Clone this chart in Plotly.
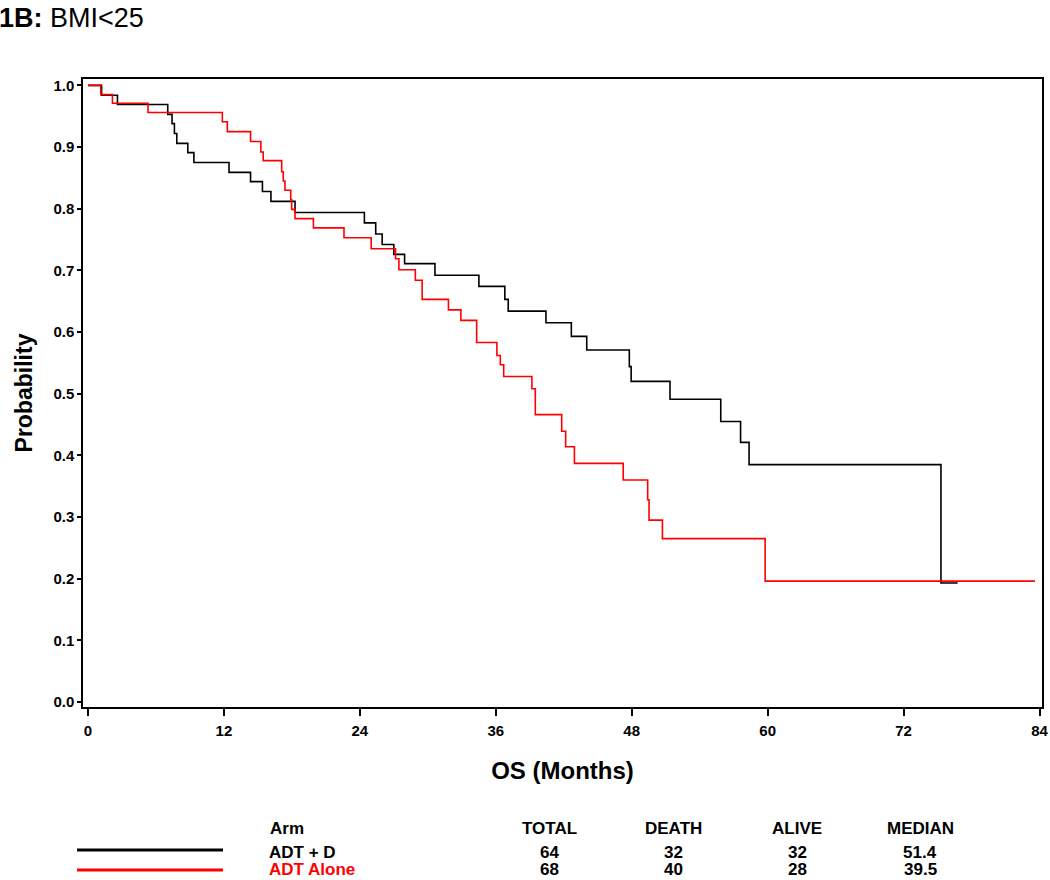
import plotly.graph_objects as go

# ---- data ----
adt_d_months = [0, 1.2, 2.6, 7.04, 7.42, 7.63, 7.84, 8.81, 9.35, 12.45, 14.35, 15.4, 16.15,
                18.28, 24.4, 25.4, 25.97, 27.0, 27.95, 30.63, 34.51, 36.8, 37.1, 40.43,
                42.67, 44.03, 47.79, 47.95, 51.38, 55.86, 57.61, 58.36, 75.3, 76.77]
adt_d_surv = [1.0, 0.984, 0.969, 0.953, 0.938, 0.922, 0.906, 0.891, 0.875, 0.859, 0.844, 0.828, 0.812,
              0.794, 0.777, 0.759, 0.742, 0.726, 0.711, 0.692, 0.674, 0.653, 0.634, 0.615,
              0.593, 0.571, 0.544, 0.520, 0.491, 0.455, 0.421, 0.385, 0.193, 0.193]

adt_alone_months = [0, 1.13, 2.16, 5.3, 11.86, 12.3, 14.35, 15.26, 15.47, 17.1, 17.24, 17.39,
                    17.9, 17.98, 18.28, 19.9, 22.6, 25.0, 27.15, 27.45, 28.9, 29.5, 31.82,
                    32.92, 34.31, 36.1, 36.4, 36.7, 39.19, 39.49, 41.82, 42.17, 42.94, 47.25,
                    49.41, 49.53, 50.71, 59.78, 83.6]
adt_alone_surv = [1.0, 0.985, 0.971, 0.956, 0.941, 0.925, 0.909, 0.892, 0.878, 0.860, 0.845, 0.830,
                  0.815, 0.799, 0.784, 0.769, 0.753, 0.735, 0.719, 0.701, 0.684, 0.653, 0.636,
                  0.619, 0.583, 0.562, 0.547, 0.528, 0.508, 0.466, 0.439, 0.414, 0.387, 0.360,
                  0.328, 0.295, 0.265, 0.196, 0.196]

x_ticks = [0, 12, 24, 36, 48, 60, 72, 84]
y_ticks = [0.0, 0.1, 0.2, 0.3, 0.4, 0.5, 0.6, 0.7, 0.8, 0.9, 1.0]

table_header = ["Arm", "TOTAL", "DEATH", "ALIVE", "MEDIAN"]
arms = ["ADT + D", "ADT Alone"]
arm_colors = ["#000000", "#FF0000"]
totals = [64, 68]
deaths = [32, 40]
alive = [32, 28]
medians = ["51.4", "39.5"]

FONT = "Liberation Sans, Arial, sans-serif"

fig = go.Figure()
fig.add_trace(go.Scatter(x=adt_d_months, y=adt_d_surv, mode="lines", line_shape="hv",
                         line=dict(color=arm_colors[0], width=1.6), name=arms[0], showlegend=False))
fig.add_trace(go.Scatter(x=adt_alone_months, y=adt_alone_surv, mode="lines", line_shape="hv",
                         line=dict(color=arm_colors[1], width=1.6), name=arms[1], showlegend=False))

fig.update_layout(
    width=1050, height=880,
    margin=dict(l=83, r=8, t=79, b=173, autoexpand=False),
    paper_bgcolor="white", plot_bgcolor="white",
    font=dict(family=FONT, color="#000000"),
    xaxis=dict(range=[-0.44, 84.22], tickvals=x_ticks, ticks="outside", ticklen=7, tickwidth=1.5,
               tickcolor="#000", showline=True, linecolor="#000", linewidth=1.5, mirror=True,
               showgrid=False, zeroline=False, automargin=False, ticklabelstandoff=2,
               tickfont=dict(family=FONT, size=15, color="#000", weight="bold"),
               title=dict(text="<b>OS (Months)</b>", font=dict(family=FONT, size=24, color="#000"),
                          standoff=24)),
    yaxis=dict(range=[-0.0081, 1.0104], tickvals=y_ticks, tickformat=".1f", ticks="outside",
               ticklen=4, tickwidth=1.5, tickcolor="#000", showline=True, linecolor="#000",
               linewidth=1.5, mirror=True, showgrid=False, zeroline=False, automargin=False,
               tickfont=dict(family=FONT, size=15, color="#000", weight="bold"),
               title=dict(text="<b>Probability</b>", font=dict(family=FONT, size=23, color="#000"),
                          standoff=14)),
)

PW, PH, L, B = 959.0, 628.0, 83.0, 707.0
def px(xp):
    return (xp - L) / PW
def py(yp):
    return (B - yp) / PH

# title
fig.add_annotation(text="<b>1B:</b> BMI&lt;25", xref="paper", yref="paper", x=px(-3), y=py(18),
                   xanchor="left", yanchor="middle", showarrow=False,
                   font=dict(family=FONT, size=27, color="#000"))

# table below plot
col_x = [268, 549, 673, 797, 920]
header_y = 828
row_y = [852.5, 869.5]
line_y = [850, 870]

for i, h in enumerate(table_header):
    fig.add_annotation(text=f"<b>{h}</b>", xref="paper", yref="paper", x=px(col_x[i]), y=py(header_y),
                       xanchor="left" if i == 0 else "center", yanchor="middle", showarrow=False,
                       font=dict(family=FONT, size=17, color="#000"))

for r in range(2):
    vals = [arms[r], str(totals[r]), str(deaths[r]), str(alive[r]), medians[r]]
    for i, v in enumerate(vals):
        fig.add_annotation(text=f"<b>{v}</b>", xref="paper", yref="paper", x=px(col_x[i]), y=py(row_y[r]),
                           xanchor="left" if i == 0 else "center", yanchor="middle", showarrow=False,
                           borderpad=0,
                           font=dict(family=FONT, size=17, color=arm_colors[r] if i == 0 else "#000"))
    fig.add_shape(type="line", xref="paper", yref="paper", x0=px(77), x1=px(223),
                  y0=py(line_y[r]), y1=py(line_y[r]), line=dict(color=arm_colors[r], width=3))

fig.write_html("out.html", config={"displayModeBar": False},
               post_script="document.body.style.margin='0';document.body.style.padding='0';"
                           "document.documentElement.style.overflow='hidden';")
